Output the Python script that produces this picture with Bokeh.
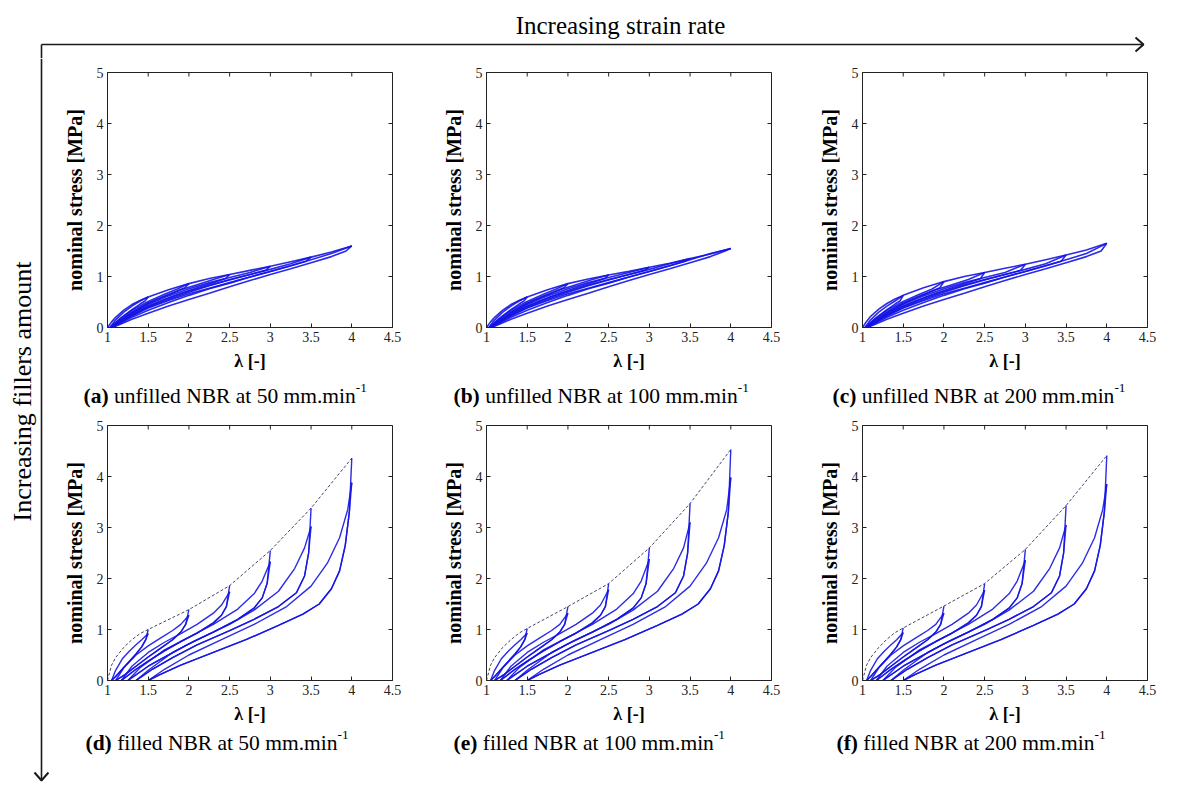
import math
from bokeh.plotting import figure
from bokeh.models import Range1d, FixedTicker, Label, NumeralTickFormatter
from bokeh.layouts import row, column
from bokeh.embed import file_html
from bokeh.resources import INLINE

# ---------------- data ----------------
x_ticks = [1, 1.5, 2, 2.5, 3, 3.5, 4, 4.5]
y_ticks = [0, 1, 2, 3, 4, 5]
levels = [1.5, 2.0, 2.5, 3.0, 3.5, 4.0]

# unfilled NBR: loading (upper) curve
unf_load_lam = [1.0, 1.05, 1.1, 1.2, 1.3, 1.4, 1.5, 1.75, 2.0, 2.25, 2.5, 2.75, 3.0, 3.25, 3.5, 3.75, 4.0]
unf_load_sig_a = [0, 0.11, 0.20, 0.34, 0.45, 0.53, 0.60, 0.74, 0.86, 0.96, 1.04, 1.12, 1.20, 1.29, 1.38, 1.48, 1.60]
unf_load_sig_b = [0, 0.11, 0.20, 0.34, 0.45, 0.53, 0.60, 0.74, 0.86, 0.95, 1.03, 1.10, 1.18, 1.26, 1.35, 1.44, 1.55]
unf_load_sig_c = [0, 0.12, 0.22, 0.36, 0.47, 0.56, 0.63, 0.78, 0.90, 1.00, 1.08, 1.16, 1.24, 1.33, 1.42, 1.52, 1.65]
# unfilled NBR: unloading curves (after the peak point), one per level
unf_unload_lam = [
    [1.46, 1.4, 1.3, 1.2, 1.1, 1.03],
    [1.95, 1.85, 1.7, 1.5, 1.3, 1.15, 1.04],
    [2.45, 2.3, 2.1, 1.9, 1.7, 1.5, 1.3, 1.15, 1.05],
    [2.94, 2.75, 2.5, 2.25, 2.0, 1.75, 1.5, 1.3, 1.15, 1.06],
    [3.44, 3.25, 3.0, 2.75, 2.5, 2.25, 2.0, 1.75, 1.5, 1.3, 1.15, 1.06],
    [3.93, 3.75, 3.5, 3.25, 3.0, 2.75, 2.5, 2.25, 2.0, 1.75, 1.5, 1.3, 1.15, 1.06],
]
unf_unload_sig = [
    [0.52, 0.46, 0.35, 0.23, 0.10, 0.0],
    [0.78, 0.71, 0.61, 0.47, 0.29, 0.12, 0.0],
    [0.96, 0.88, 0.78, 0.67, 0.55, 0.41, 0.25, 0.10, 0.0],
    [1.12, 1.04, 0.93, 0.82, 0.69, 0.55, 0.39, 0.23, 0.09, 0.0],
    [1.30, 1.21, 1.10, 0.99, 0.87, 0.76, 0.63, 0.49, 0.34, 0.20, 0.08, 0.0],
    [1.50, 1.39, 1.27, 1.15, 1.04, 0.92, 0.80, 0.67, 0.55, 0.42, 0.28, 0.16, 0.06, 0.0],
]
# unfilled NBR: reloading curves (before the peak point)
unf_reload_lam = [
    [1.03, 1.1, 1.2, 1.3, 1.4],
    [1.04, 1.15, 1.3, 1.5, 1.7, 1.85],
    [1.05, 1.15, 1.3, 1.5, 1.7, 1.9, 2.1, 2.3],
    [1.06, 1.15, 1.3, 1.5, 1.75, 2.0, 2.25, 2.5, 2.75],
    [1.06, 1.15, 1.3, 1.5, 1.75, 2.0, 2.25, 2.5, 2.75, 3.0, 3.25],
    [1.06, 1.15, 1.3, 1.5, 1.75, 2.0, 2.25, 2.5, 2.75, 3.0, 3.25, 3.5, 3.75],
]
unf_reload_sig = [
    [0.0, 0.15, 0.30, 0.42, 0.52],
    [0.0, 0.17, 0.34, 0.51, 0.65, 0.75],
    [0.0, 0.14, 0.31, 0.48, 0.62, 0.74, 0.84, 0.94],
    [0.0, 0.12, 0.28, 0.45, 0.62, 0.76, 0.88, 0.98, 1.08],
    [0.0, 0.11, 0.26, 0.42, 0.58, 0.71, 0.83, 0.94, 1.04, 1.14, 1.25],
    [0.0, 0.10, 0.23, 0.38, 0.53, 0.66, 0.77, 0.88, 0.99, 1.10, 1.21, 1.33, 1.45],
]

# filled NBR: virgin (first loading) envelope
fil_virgin_lam = [1.0, 1.05, 1.1, 1.2, 1.3, 1.4, 1.5, 2.0, 2.5, 3.0, 3.5, 4.0]
fil_virgin_sig_d = [0, 0.30, 0.45, 0.65, 0.80, 0.92, 1.00, 1.39, 1.86, 2.55, 3.38, 4.36]
fil_virgin_sig_e = [0, 0.30, 0.45, 0.65, 0.80, 0.93, 1.02, 1.45, 1.90, 2.60, 3.47, 4.53]
fil_virgin_sig_f = [0, 0.30, 0.45, 0.65, 0.81, 0.94, 1.03, 1.46, 1.90, 2.57, 3.43, 4.41]
# peak stress of repeated cycles at each level
fil_repeat_peak_d = [0.92, 1.28, 1.74, 2.33, 3.02, 3.88]
fil_repeat_peak_e = [0.93, 1.32, 1.78, 2.38, 3.10, 3.98]
fil_repeat_peak_f = [0.94, 1.32, 1.77, 2.36, 3.05, 3.85]
# filled NBR: unloading curves (after the peak point)
fil_unload_lam = [
    [1.47, 1.42, 1.35, 1.27, 1.18, 1.1, 1.05],
    [1.96, 1.9, 1.8, 1.65, 1.5, 1.35, 1.22, 1.1],
    [2.46, 2.4, 2.3, 2.1, 1.9, 1.7, 1.5, 1.35, 1.17],
    [2.96, 2.9, 2.8, 2.6, 2.3, 2.0, 1.7, 1.5, 1.25],
    [3.47, 3.42, 3.32, 3.1, 2.8, 2.5, 2.1, 1.8, 1.55, 1.35],
    [3.97, 3.92, 3.85, 3.75, 3.6, 3.4, 3.1, 2.7, 2.3, 1.9, 1.65, 1.5],
]
fil_unload_sig = [
    [0.80, 0.66, 0.52, 0.38, 0.22, 0.08, 0.0],
    [1.10, 0.95, 0.80, 0.63, 0.46, 0.28, 0.12, 0.0],
    [1.45, 1.28, 1.13, 0.93, 0.76, 0.58, 0.38, 0.22, 0.0],
    [1.90, 1.62, 1.42, 1.20, 0.95, 0.72, 0.46, 0.28, 0.0],
    [2.50, 2.05, 1.72, 1.45, 1.20, 0.98, 0.70, 0.45, 0.22, 0.0],
    [3.30, 2.65, 2.15, 1.80, 1.50, 1.30, 1.08, 0.80, 0.55, 0.30, 0.12, 0.0],
]
# filled NBR: reloading curves (before the repeated peak)
fil_reload_lam = [
    [1.05, 1.1, 1.18, 1.27, 1.35, 1.42],
    [1.1, 1.2, 1.35, 1.5, 1.65, 1.8, 1.9],
    [1.17, 1.3, 1.5, 1.7, 1.9, 2.1, 2.3, 2.4],
    [1.25, 1.4, 1.7, 2.0, 2.3, 2.6, 2.8, 2.9],
    [1.35, 1.5, 1.8, 2.1, 2.5, 2.8, 3.1, 3.3, 3.42],
    [1.5, 1.7, 2.0, 2.4, 2.8, 3.2, 3.5, 3.7, 3.85, 3.95],
]
fil_reload_sig = [
    [0.0, 0.20, 0.42, 0.58, 0.70, 0.80],
    [0.0, 0.25, 0.50, 0.68, 0.83, 0.98, 1.10],
    [0.0, 0.28, 0.55, 0.75, 0.92, 1.10, 1.32, 1.48],
    [0.0, 0.25, 0.60, 0.85, 1.10, 1.40, 1.70, 1.95],
    [0.0, 0.20, 0.55, 0.80, 1.10, 1.38, 1.75, 2.20, 2.60],
    [0.0, 0.22, 0.50, 0.80, 1.10, 1.45, 1.85, 2.30, 2.80, 3.35],
]

panel_tags = ["(a)", "(b)", "(c)", "(d)", "(e)", "(f)"]
panel_texts = ["unfilled NBR at 50 mm.min", "unfilled NBR at 100 mm.min", "unfilled NBR at 200 mm.min",
               "filled NBR at 50 mm.min", "filled NBR at 100 mm.min", "filled NBR at 200 mm.min"]
panel_sup = "-1"
top_title = "Increasing strain rate"
left_title = "Increasing fillers amount"

# ---------------- styling / layout ----------------
SERIF = "Liberation Serif"
BLUE = "#1414e6"
DARK = "#222222"
FRAME_W, FRAME_H = 285, 255
BT, BB = 14, 46
BL = [58, 60, 60]
BR = [34, 31, 40]
LEFT_W = 49
TOP_H = 58
CAP_H = [38, 58]
CAP_X = [[83, 453, 832], [85, 453, 836]]   # page x where captions start
CAP_MID = [395, 742]                       # page y of caption text middles
CAP_SIZE = 21.5

TIMES = {' ': .25, 'u': .5, 'n': .5, 'f': .333, 'i': .278, 'l': .278, 'e': .444, 'd': .5, 'N': .722,
         'B': .667, 'R': .667, 'a': .444, 't': .278, '5': .5, '0': .5, '1': .5, '2': .5, 'm': .778,
         '.': .25, '-': .333}
TIMES_B = {'(': .333, ')': .333, 'a': .5, 'b': .556, 'c': .444, 'd': .556, 'e': .444, 'f': .333, ' ': .25}


def tw(s, size, table):
    return sum(table.get(ch, .5) for ch in s) * size


def style_axis(ax):
    ax.major_tick_in = 4
    ax.major_tick_out = 0
    ax.minor_tick_line_color = None
    ax.major_tick_line_color = DARK
    ax.axis_line_color = DARK
    ax.major_label_text_font = SERIF
    ax.major_label_text_color = DARK
    ax.major_label_text_font_size = "14px"
    ax.major_label_standoff = 4
    ax.axis_label_text_font = SERIF
    ax.axis_label_text_font_style = "bold"
    ax.axis_label_text_color = "black"


def make_panel(idx, curves_xs, curves_ys, envelope=None, lw=1.4):
    r, c = divmod(idx, 3)
    p = figure(width=BL[c] + FRAME_W + BR[c], height=BT + FRAME_H + BB,
               x_range=Range1d(1, 4.5), y_range=Range1d(0, 5),
               toolbar_location=None, output_backend="svg")
    p.min_border_left = BL[c]
    p.min_border_right = BR[c]
    p.min_border_top = BT
    p.min_border_bottom = BB
    p.grid.visible = False
    p.outline_line_color = DARK
    p.outline_line_width = 1

    p.xaxis.ticker = FixedTicker(ticks=x_ticks)
    p.yaxis.ticker = FixedTicker(ticks=y_ticks)
    p.xaxis.formatter = NumeralTickFormatter(format="0.[0]")
    p.yaxis.formatter = NumeralTickFormatter(format="0")
    for ax in p.xaxis + p.yaxis:
        style_axis(ax)
    p.xaxis.axis_label = "λ [-]"
    p.yaxis.axis_label = "nominal stress [MPa]"
    p.xaxis.axis_label_text_font_size = "18px"
    p.yaxis.axis_label_text_font_size = "20px"
    p.xaxis.axis_label_standoff = 6
    p.yaxis.axis_label_standoff = 8

    # box ticks on top and right edges (MATLAB style)
    p.ray(x=x_ticks, y=[5] * len(x_ticks), length=4, angle=-math.pi / 2, length_units="screen",
          line_color=DARK, line_width=1)
    p.ray(x=[4.5] * len(y_ticks), y=y_ticks, length=4, angle=math.pi, length_units="screen",
          line_color=DARK, line_width=1)

    if envelope is not None:
        p.line(envelope[0], envelope[1], line_color="#30305a", line_width=0.9, line_dash="3 2")
    p.multi_line(curves_xs, curves_ys, line_color=BLUE, line_width=lw, line_alpha=0.9)
    return p


def make_caption_row(r):
    x_start = LEFT_W
    x_end = LEFT_W + sum(BL) + 3 * FRAME_W + sum(BR)
    y_top = TOP_H + (BT + FRAME_H + BB) * (r + 1) + sum(CAP_H[:r])
    h = CAP_H[r]
    f = figure(width=x_end - x_start, height=h, x_range=Range1d(x_start, x_end),
               y_range=Range1d(y_top + h, y_top), toolbar_location=None, output_backend="svg",
               x_axis_type=None, y_axis_type=None, min_border=0, outline_line_color=None)
    f.grid.visible = False
    for c in range(3):
        idx = 3 * r + c
        x0 = CAP_X[r][c]
        y0 = CAP_MID[r]
        tag = panel_tags[idx]
        txt = panel_texts[idx]
        f.add_layout(Label(x=x0, y=y0, text=tag, text_font=SERIF, text_font_style="bold",
                           text_font_size=f"{CAP_SIZE}px", text_color="black",
                           text_baseline="middle", text_align="left"))
        x2 = x0 + tw(tag, CAP_SIZE, TIMES_B) + 0.25 * CAP_SIZE
        f.add_layout(Label(x=x2, y=y0, text=txt, text_font=SERIF,
                           text_font_size=f"{CAP_SIZE}px", text_color="black",
                           text_baseline="middle", text_align="left"))
        x3 = x2 + tw(txt, CAP_SIZE, TIMES)
        f.add_layout(Label(x=x3, y=y0 - 0.36 * CAP_SIZE, text=panel_sup, text_font=SERIF,
                           text_font_size=f"{CAP_SIZE * 0.62:.1f}px", text_color="black",
                           text_baseline="middle", text_align="left"))
    return f


panels = []
for k, load_sig in enumerate([unf_load_sig_a, unf_load_sig_b, unf_load_sig_c]):
    xs = [unf_load_lam]
    ys = [load_sig]
    for i, lm in enumerate(levels):
        peak = load_sig[unf_load_lam.index(lm)]
        xs.append([lm] + unf_unload_lam[i]); ys.append([peak] + unf_unload_sig[i])
        xs.append(unf_reload_lam[i] + [lm]); ys.append(unf_reload_sig[i] + [peak])
    panels.append(make_panel(k, xs, ys, lw=1.6))

for k, (vsig, rpk) in enumerate([(fil_virgin_sig_d, fil_repeat_peak_d),
                                 (fil_virgin_sig_e, fil_repeat_peak_e),
                                 (fil_virgin_sig_f, fil_repeat_peak_f)]):
    xs, ys = [], []
    for i, lm in enumerate(levels):
        vpk = vsig[fil_virgin_lam.index(lm)]
        xs.append([lm] + fil_unload_lam[i]); ys.append([vpk] + fil_unload_sig[i])
        xs.append([lm] + fil_unload_lam[i]); ys.append([rpk[i]] + fil_unload_sig[i])
        xs.append(fil_reload_lam[i] + [lm]); ys.append(fil_reload_sig[i] + [rpk[i]])
    panels.append(make_panel(3 + k, xs, ys, envelope=(fil_virgin_lam, vsig)))

# ---------------- arrows & side titles ----------------
GRID_W = sum(BL) + 3 * FRAME_W + sum(BR)
TOTAL_W = LEFT_W + GRID_W
LEFT_H = 2 * (BT + FRAME_H + BB) + sum(CAP_H)

top = figure(width=TOTAL_W, height=TOP_H, x_range=Range1d(0, TOTAL_W),
             y_range=Range1d(TOP_H, 0), toolbar_location=None, output_backend="svg",
             x_axis_type=None, y_axis_type=None, min_border=0, outline_line_color=None)
top.grid.visible = False
ARROW_C = "#1a1a1a"
CORNER_X, CORNER_Y = 41, 44
H_END = 1143
top.line([CORNER_X, H_END], [CORNER_Y, CORNER_Y], line_color=ARROW_C, line_width=1.6)
top.line([H_END - 8, H_END, H_END - 8], [CORNER_Y - 7, CORNER_Y, CORNER_Y + 7], line_color=ARROW_C, line_width=2)
top.line([CORNER_X, CORNER_X], [CORNER_Y, TOP_H], line_color=ARROW_C, line_width=1.6)
top.add_layout(Label(x=620, y=25, text=top_title, text_font=SERIF, text_font_size="25px",
                     text_align="center", text_baseline="middle", text_color="black"))

left = figure(width=LEFT_W, height=LEFT_H, x_range=Range1d(0, LEFT_W),
              y_range=Range1d(TOP_H + LEFT_H, TOP_H), toolbar_location=None, output_backend="svg",
              x_axis_type=None, y_axis_type=None, min_border=0, outline_line_color=None)
left.grid.visible = False
V_END = 780
left.line([CORNER_X, CORNER_X], [TOP_H, V_END], line_color=ARROW_C, line_width=1.6)
left.line([CORNER_X - 7, CORNER_X, CORNER_X + 7], [V_END - 8, V_END, V_END - 8], line_color=ARROW_C, line_width=2)
left.add_layout(Label(x=22, y=391, text=left_title, text_font=SERIF, text_font_size="26px",
                      angle=math.pi / 2, text_align="center", text_baseline="middle", text_color="black"))

grid = column(row(*panels[:3]), make_caption_row(0), row(*panels[3:]), make_caption_row(1))
layout = column(top, row(left, grid))

open("out.html", "w").write(file_html(layout, INLINE))
